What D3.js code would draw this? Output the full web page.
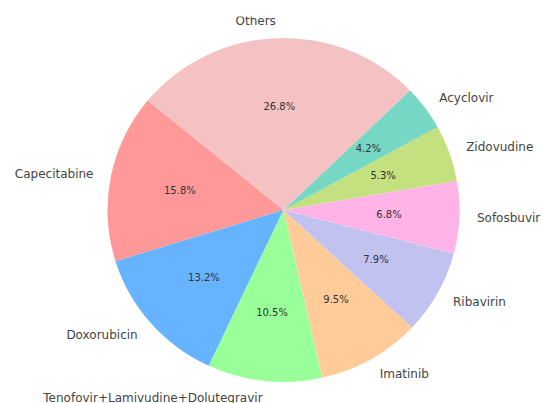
<!DOCTYPE html>
<html>
<head>
<meta charset="utf-8">
<script src="https://cdn.jsdelivr.net/npm/d3@7"></script>
<style>
  html, body { margin: 0; padding: 0; background: #fff; }
  svg { display: block; }
  text { font-family: "DejaVu Sans", sans-serif; }
</style>
</head>
<body>
<div id="chart"></div>
<script>
// Share of medicines (percent), drawn counter-clockwise from the start angle
const drugs = ["Capecitabine", "Doxorubicin", "Tenofovir+Lamivudine+Dolutegravir",
               "Imatinib", "Ribavirin", "Sofosbuvir", "Zidovudine", "Acyclovir", "Others"];
const shares = [15.8, 13.2, 10.5, 9.5, 7.9, 6.8, 5.3, 4.2, 26.8];
const sliceColors = ["#ff9999", "#66b3ff", "#99ff99", "#ffcc99", "#c2c2f0",
                     "#ffb3e6", "#c4e17f", "#76d7c4", "#f4c2c2"];

const width = 542, height = 403;
const cx = 283.5, cy = 210;
const rx = 176, ry = 172;          // pie is drawn slightly wider than tall
const startDeg = 140.5;            // measured counter-clockwise from 3 o'clock

const svg = d3.select("#chart").append("svg")
  .attr("width", width).attr("height", height);

// d3 angles run clockwise from 12 o'clock
const start = (90 - startDeg) * Math.PI / 180;
const pie = d3.pie().sort(null).value(d => d)
  .startAngle(start).endAngle(start - 2 * Math.PI);
const arcs = pie(shares);

const arc = d3.arc().innerRadius(0).outerRadius(ry);

const g = svg.append("g")
  .attr("transform", `translate(${cx},${cy})`);

g.append("g")
  .attr("transform", `scale(${rx / ry},1)`)
  .selectAll("path")
  .data(arcs)
  .join("path")
  .attr("d", arc)
  .attr("fill", (d, i) => sliceColors[i]);

const mid = d => (d.startAngle + d.endAngle) / 2;
const px = (d, k) => Math.sin(mid(d)) * rx * k;
const py = (d, k) => -Math.cos(mid(d)) * ry * k;

// percentage inside each slice
g.selectAll("text.pct")
  .data(arcs)
  .join("text")
  .attr("class", "pct")
  .attr("x", d => px(d, 0.6))
  .attr("y", d => py(d, 0.6))
  .attr("dy", "0.35em")
  .attr("text-anchor", "middle")
  .attr("font-size", 10)
  .attr("fill", "#333")
  .text((d, i) => shares[i].toFixed(1) + "%");

// name outside each slice
g.selectAll("text.lbl")
  .data(arcs)
  .join("text")
  .attr("class", "lbl")
  .attr("x", d => px(d, 1.1))
  .attr("y", d => py(d, 1.1))
  .attr("dy", "0.35em")
  .attr("text-anchor", d => Math.sin(mid(d)) >= 0 ? "start" : "end")
  .attr("font-size", 12)
  .attr("fill", "#444")
  .text((d, i) => drugs[i]);

// page top edge trims the uppermost label
svg.append("rect")
  .attr("x", 0).attr("y", 0)
  .attr("width", width).attr("height", 16.5)
  .attr("fill", "#fff");
</script>
</body>
</html>
